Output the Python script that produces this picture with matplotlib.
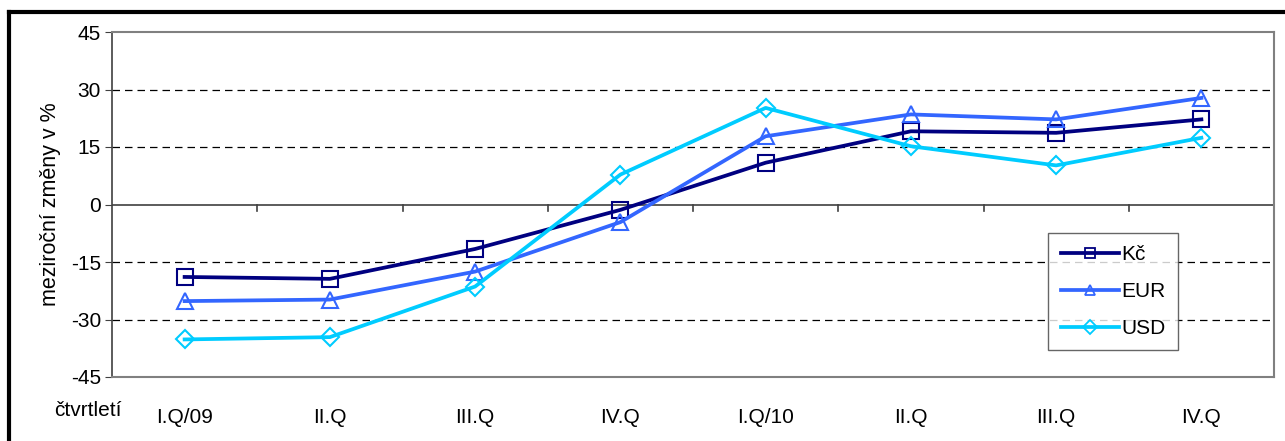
import matplotlib.pyplot as plt
import numpy as np
from matplotlib.lines import Line2D

plt.rcParams['font.family'] = ['Liberation Sans', 'DejaVu Sans']
plt.rcParams['axes.unicode_minus'] = False

# Data
quarters = ["I.Q/09", "II.Q", "III.Q", "IV.Q", "I.Q/10", "II.Q", "III.Q", "IV.Q"]
czk = [-18.9, -19.4, -11.6, -1.4, 10.9, 19.1, 18.7, 22.2]
eur = [-25.2, -24.8, -17.5, -4.6, 17.8, 23.5, 22.2, 27.8]
usd = [-35.2, -34.6, -21.4, 7.8, 25.2, 15.2, 10.2, 17.4]
series_names = ["Kč", "EUR", "USD"]
colors = ["#000080", "#3366FF", "#00CCFF"]
markers = ["s", "^", "D"]

fs = 15

fig = plt.figure(figsize=(12.85, 4.41), dpi=100)
ax = fig.add_axes([112 / 1285, 1 - 377 / 441, (1274 - 112) / 1285, (377 - 32) / 441])

x = np.arange(len(quarters))
sizes = [11, 12, 9]
for vals, name, c, m, ms in zip([czk, eur, usd], series_names, colors, markers, sizes):
    ax.plot(x, vals, color=c, lw=2.7, marker=m, ms=ms, mfc='none', mec=c, mew=1.5,
            label=name, zorder=3)

ax.set_xlim(-0.5, len(quarters) - 0.5)
ax.set_ylim(-45, 45)
ax.set_yticks(np.arange(-45, 46, 15))
ax.tick_params(axis='y', labelsize=fs, length=5, direction='out', color='#404040', pad=3)
for yv in [-30, -15, 15, 30]:
    ax.axhline(yv, color='black', lw=0.9, ls=(0, (6, 4)), zorder=1)
ax.axhline(0, color='#404040', lw=1.2, zorder=2)
# category boundary ticks on the zero line
for b in np.arange(0.5, len(quarters) - 0.5, 1):
    ax.plot([b, b], [0, -1.6], color='#404040', lw=1.2, zorder=2, clip_on=False)

ax.set_xticks(x)
ax.set_xticklabels(quarters, fontsize=fs)
ax.tick_params(axis='x', length=0, pad=22)

for side in ['top', 'right', 'bottom']:
    ax.spines[side].set_color('#808080')
    ax.spines[side].set_linewidth(1.5)
ax.spines['left'].set_color('#404040')
ax.spines['left'].set_linewidth(1.2)

ax.set_ylabel("meziroční změny v %", fontsize=15.5, labelpad=7)
fig.text(122 / 1285, 1 - 410 / 441, "čtvrtletí", fontsize=fs, ha='right', va='center')

handles = [Line2D([0], [0], color=c, lw=2.7, marker=m, ms=7, mfc='none', mec=c, mew=1.3)
           for c, m in zip(colors, markers)]
leg = ax.legend(handles, series_names, loc='upper left',
                bbox_to_anchor=((1048 - 112) / 1162, 1 - (233 - 32) / 345),
                fontsize=fs, frameon=True, fancybox=False, edgecolor='#404040',
                handlelength=2.8, handletextpad=0.1, borderpad=0.6, labelspacing=0.85,
                borderaxespad=0)
leg.get_frame().set_linewidth(1.0)

# outer chart frame (left and top)
fig.add_artist(Line2D([9 / 1285, 9 / 1285], [0, 1 - 12 / 441], color='black', lw=3))
fig.add_artist(Line2D([9 / 1285, 1], [1 - 12 / 441, 1 - 12 / 441], color='black', lw=3))

fig.savefig("out.png", dpi=100)
